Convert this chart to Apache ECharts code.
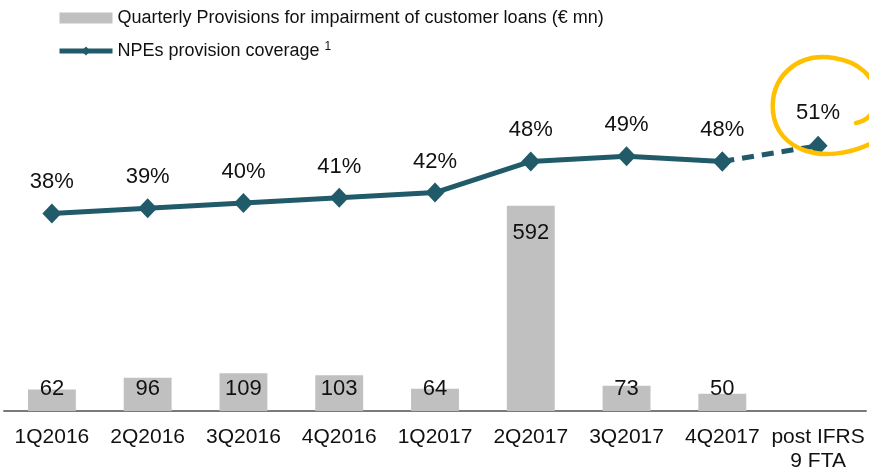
<!DOCTYPE html>
<html>
<head>
<meta charset="utf-8">
<script src="https://cdn.jsdelivr.net/npm/echarts@6/dist/echarts.min.js"></script>
<style>html,body{margin:0;padding:0;background:#fff}#c{width:869px;height:473px}</style>
</head>
<body>
<div id="c"></div>
<script>
const categories = ['1Q2016','2Q2016','3Q2016','4Q2016','1Q2017','2Q2017','3Q2017','4Q2017','post IFRS\n9 FTA'];
const provisions = [62, 96, 109, 103, 64, 592, 73, 50, null];
const coverage = [38, 39, 40, 41, 42, 48, 49, 48, 51];
const barName = 'Quarterly Provisions for impairment of customer loans (€ mn)';
const lineName = 'NPEs provision coverage';

const lineColor = '#215b69';
const solidData = coverage.map((v, i) => i < coverage.length - 1 ? v : '-');
const dashData = coverage.map((v, i) => i >= coverage.length - 2 ? v : '-');

const barData = provisions.map((v, i) => {
  if (v === null) return '-';
  if (v > 300) return { value: v, label: { position: 'insideTop', distance: 16 } };
  return v;
});

const circleStyle = { fill: null, stroke: '#ffc000', lineWidth: 4.5, lineCap: 'round' };
function bez(x1, y1, c1x, c1y, c2x, c2y, x2, y2) {
  return { type: 'bezierCurve', shape: { x1: x1, y1: y1, cpx1: c1x, cpy1: c1y, cpx2: c2x, cpy2: c2y, x2: x2, y2: y2 }, style: circleStyle, z: 10 };
}

const chart = echarts.init(document.getElementById('c'));
chart.setOption({
  animation: false,
  textStyle: { fontFamily: 'Liberation Sans, Arial, sans-serif' },
  legend: {
    orient: 'vertical',
    left: 52,
    top: 4,
    itemGap: 14,
    itemWidth: 53,
    itemHeight: 11,
    textStyle: { fontSize: 18, color: '#111', rich: { sup: { fontSize: 12, verticalAlign: 'top', padding: [0,0,8,0], color: '#111' } } },
    formatter: function (n) { return n === lineName ? n + ' {sup|1}' : n; },
    data: [
      { name: barName, icon: 'rect' },
      { name: lineName, lineStyle: { width: 5 }, itemStyle: { color: lineColor } }
    ]
  },
  grid: { left: 4, right: 3, top: 99, bottom: 53 },
  xAxis: {
    type: 'category',
    data: categories,
    axisTick: { show: false },
    axisLine: { lineStyle: { color: '#7a7a7a', width: 2 } },
    axisLabel: { color: '#111', fontSize: 21, margin: 14, lineHeight: 24, interval: 0 }
  },
  yAxis: [
    { type: 'value', min: 0, max: 900, show: false, splitLine: { show: false } },
    { type: 'value', min: 0, max: 60, show: false, splitLine: { show: false } }
  ],
  series: [
    {
      name: barName,
      type: 'bar',
      data: barData,
      barWidth: '50%',
      itemStyle: { color: '#c0c0c0' },
      label: { show: true, position: 'insideBottom', distance: 11, color: '#111', fontSize: 22 },
      z: 2
    },
    {
      name: lineName,
      type: 'line',
      yAxisIndex: 1,
      data: solidData,
      symbol: 'diamond',
      symbolSize: [19, 20],
      lineStyle: { color: lineColor, width: 5 },
      itemStyle: { color: lineColor },
      label: { show: true, position: 'top', distance: 10, color: '#111', fontSize: 22, formatter: '{c}%' },
      z: 5
    },
    {
      name: lineName + ' (dashed)',
      type: 'line',
      yAxisIndex: 1,
      data: dashData,
      symbol: 'diamond',
      symbolSize: [19, 20],
      lineStyle: { color: lineColor, width: 5, type: [12, 8] },
      itemStyle: { color: lineColor },
      label: {
        show: true, position: 'top', distance: 12, color: '#111', fontSize: 22,
        formatter: function (p) { return p.dataIndex === coverage.length - 1 ? p.value + '%' : ''; }
      },
      z: 4
    }
  ],
  graphic: [
    bez(856, 123, 886, 118, 886, 66, 834, 58),
    bez(834, 58, 796, 52, 770, 78, 773, 112),
    bez(773, 112, 777, 150, 822, 166, 870, 144)
  ]
});
</script>
</body>
</html>
